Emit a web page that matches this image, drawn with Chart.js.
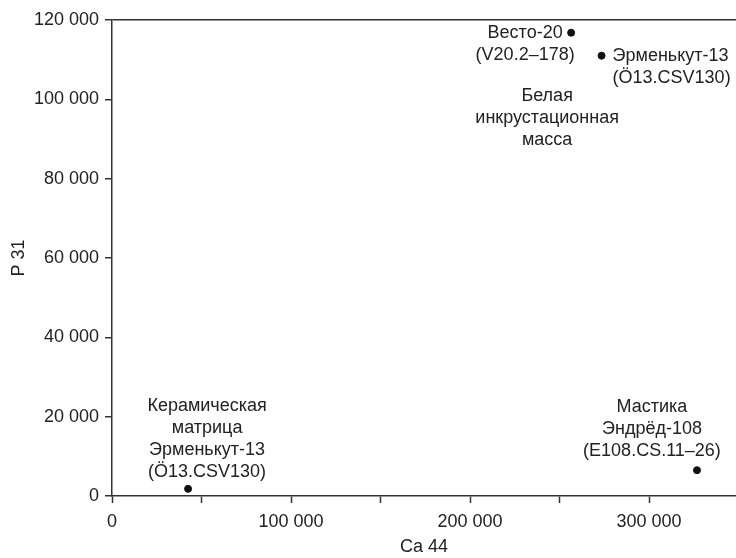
<!DOCTYPE html>
<html>
<head>
<meta charset="utf-8">
<script src="https://cdn.jsdelivr.net/npm/chart.js"></script>
<style>
  html, body { margin: 0; padding: 0; background: #fff; }
  #wrap { width: 736px; height: 558px; }
</style>
</head>
<body>
<div id="wrap"><canvas id="c" width="736" height="558"></canvas></div>
<script>
// Data (Ca 44 vs P 31 counts)
const sampleNames = ['Весто-20', 'Эрменькут-13', 'Керамическая матрица', 'Мастика'];
const ca44 = [256500, 273500, 42500, 326800];
const p31 = [116800, 111000, 1800, 6500];
const pointLabels = [
    ['Весто-20', '(V20.2–178)'],
    ['Эрменькут-13', '(Ö13.CSV130)'],
    ['Керамическая', 'матрица', 'Эрменькут-13', '(Ö13.CSV130)'],
    ['Мастика', 'Эндрёд-108', '(E108.CS.11–26)']
];
const groupLabel = ['Белая', 'инкрустационная', 'масса'];
const xTickValues = [0, 50000, 100000, 150000, 200000, 250000, 300000];
const xTickLabels = ['0', '', '100 000', '', '200 000', '', '300 000'];
const yTickLabels = ['0', '20 000', '40 000', '60 000', '80 000', '100 000', '120 000'];

// where each label sits relative to its point (pixels)
const labelPlacement = [
    { dx: -46, dy: 0, align: 'center' },
    { dx: 11, dy: 0, align: 'left' },
    { dx: 19, dy: -83, align: 'center' },
    { dx: -45, dy: -63, align: 'center' }
];
const groupPlacement = { point: 0, dx: -24, dy: 63 };

const FONT = '"Liberation Sans", Arial, sans-serif';
const INK = '#222';
const LINE_H = 22;

function fmt(v) {
    return String(Math.round(v)).replace(/\B(?=(\d{3})+(?!\d))/g, ' ');
}

const labelPlugin = {
    id: 'pointText',
    afterDatasetsDraw(chart) {
        const ctx = chart.ctx;
        const pts = chart.getDatasetMeta(0).data;
        ctx.save();
        ctx.font = '18px ' + FONT;
        ctx.fillStyle = INK;
        ctx.textBaseline = 'middle';
        pointLabels.forEach((lines, i) => {
            const p = labelPlacement[i];
            ctx.textAlign = p.align;
            lines.forEach((t, k) => {
                ctx.fillText(t, pts[i].x + p.dx, pts[i].y + p.dy + k * LINE_H);
            });
        });
        const g = pts[groupPlacement.point];
        ctx.textAlign = 'center';
        groupLabel.forEach((t, k) => {
            ctx.fillText(t, g.x + groupPlacement.dx, g.y + groupPlacement.dy + k * LINE_H);
        });
        ctx.restore();
    }
};

new Chart(document.getElementById('c'), {
    type: 'scatter',
    data: {
        datasets: [{
            label: 'samples',
            data: ca44.map((x, i) => ({ x: x, y: p31[i], name: sampleNames[i] })),
            backgroundColor: '#111',
            borderColor: '#111',
            pointRadius: 3.5
        }]
    },
    options: {
        responsive: false,
        animation: false,
        layout: { autoPadding: false, padding: { top: 20, right: 0, left: 0, bottom: 0 } },
        plugins: {
            legend: { display: false },
            tooltip: { enabled: false }
        },
        scales: {
            x: {
                type: 'linear',
                min: 0,
                max: 348600, // axis runs off the right edge of the figure
                afterBuildTicks: s => { s.ticks = xTickValues.map(v => ({ value: v })); },
                afterFit: s => { s.height = 62; s.paddingRight = 0; },
                border: { color: '#333', width: 1.5 },
                grid: { drawOnChartArea: false, tickLength: 7, tickWidth: 1.5, tickColor: '#333' },
                ticks: {
                    maxRotation: 0,
                    autoSkip: false,
                    padding: 8,
                    color: INK,
                    font: { family: FONT, size: 18 },
                    callback: (v, i) => xTickLabels[i] || ''
                },
                title: {
                    display: true,
                    text: 'Ca 44',
                    color: INK,
                    font: { family: FONT, size: 18 },
                    padding: { top: 0, bottom: 0 }
                }
            },
            y: {
                type: 'linear',
                min: 0,
                max: 120000,
                afterFit: s => { s.width = 112; },
                border: { color: '#333', width: 1.5 },
                grid: {
                    drawOnChartArea: true,
                    color: c => c.tick && c.tick.value === 120000 ? '#333' : 'rgba(0,0,0,0)',
                    lineWidth: 1.5,
                    tickLength: 7,
                    tickColor: '#333',
                    tickWidth: 1.5
                },
                ticks: {
                    stepSize: 20000,
                    padding: 6,
                    color: INK,
                    font: { family: FONT, size: 18 },
                    callback: v => yTickLabels.includes(fmt(v)) ? fmt(v) : ''
                },
                title: {
                    display: true,
                    text: 'P 31',
                    color: INK,
                    font: { family: FONT, size: 18 },
                    padding: { top: 8, bottom: 0 }
                }
            }
        }
    },
    plugins: [labelPlugin]
});
</script>
</body>
</html>
